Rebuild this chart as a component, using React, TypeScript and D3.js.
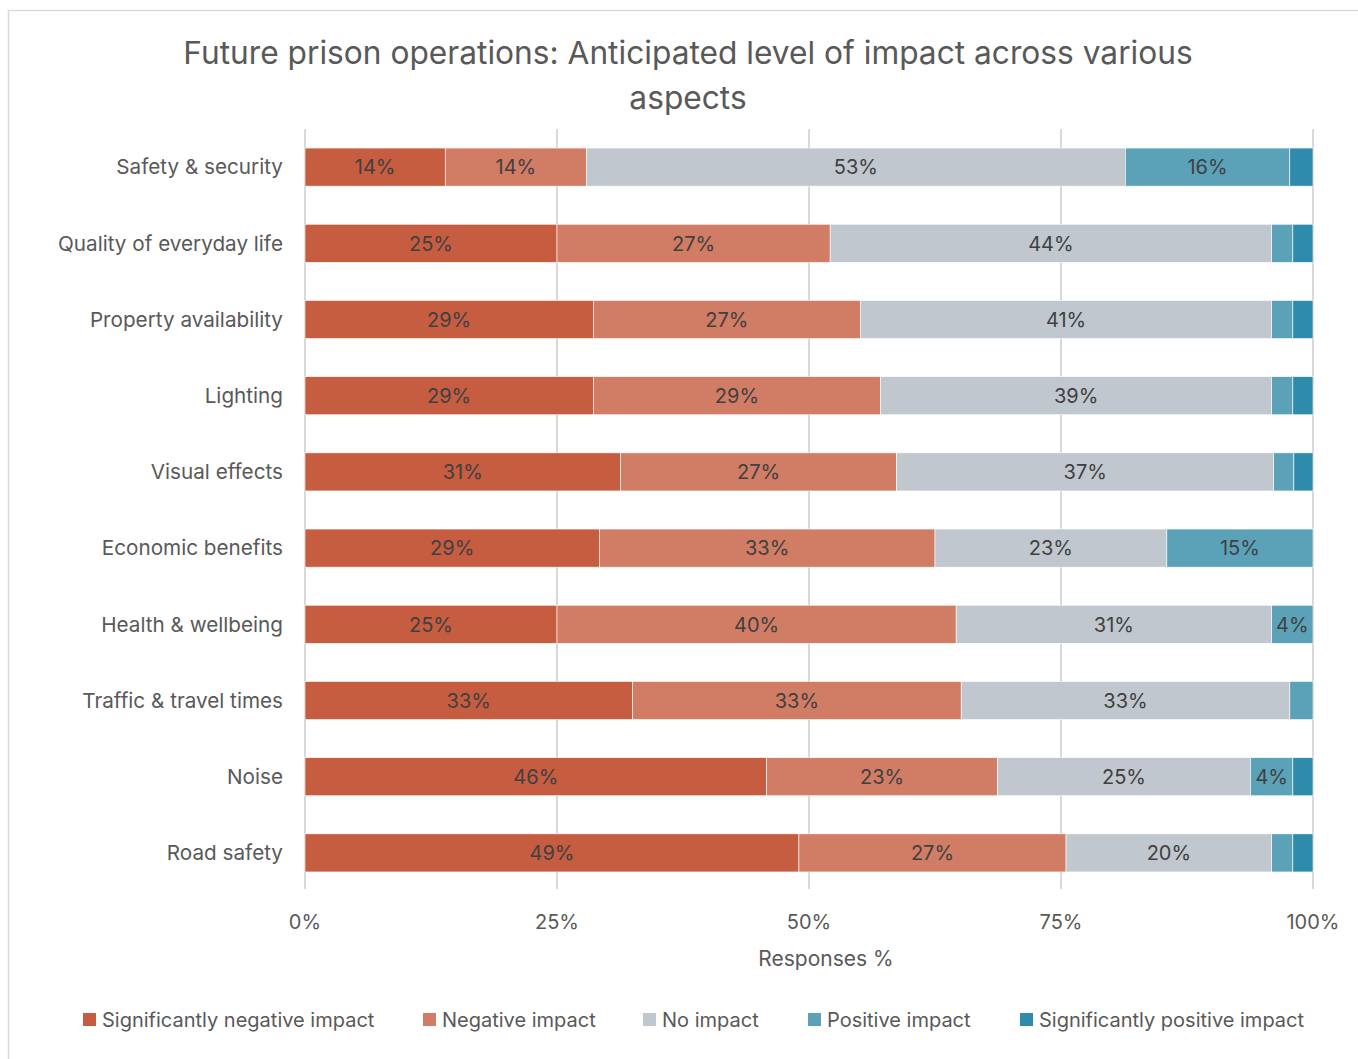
import React, { useEffect, useRef } from "react";
import * as d3 from "d3";

const categories = [
  "Safety & security",
  "Quality of everyday life",
  "Property availability",
  "Lighting",
  "Visual effects",
  "Economic benefits",
  "Health & wellbeing",
  "Traffic & travel times",
  "Noise",
  "Road safety",
];

const seriesNames = [
  "Significantly negative impact",
  "Negative impact",
  "No impact",
  "Positive impact",
  "Significantly positive impact",
];

// values per series, same order as categories (percent of responses)
const sigNegative = [13.9, 25.0, 28.6, 28.6, 31.3, 29.2, 25.0, 32.5, 45.8, 49.0];
const negative = [14.0, 27.1, 26.5, 28.5, 27.4, 33.3, 39.6, 32.6, 22.9, 26.5];
const noImpact = [53.4, 43.8, 40.8, 38.8, 37.4, 23.0, 31.3, 32.6, 25.1, 20.4];
const positive = [16.3, 2.1, 2.1, 2.1, 2.0, 14.5, 4.1, 2.3, 4.2, 2.1];
const sigPositive = [2.3, 2.0, 2.0, 2.0, 1.9, 0, 0, 0, 2.0, 2.0];

const colors = ["#C65C40", "#D17C64", "#C0C7CE", "#5BA2B9", "#2F8BAB"];
const tickValues = [0, 0.25, 0.5, 0.75, 1];

const W = 1358;
const H = 1059;
const FONT = "Inter, 'Open Sans', 'Noto Sans', sans-serif";

const App = () => {
  const ref = useRef<SVGSVGElement>(null);

  useEffect(() => {
    if (!ref.current) return;
    const svg = d3.select(ref.current);
    svg.selectAll("*").remove();

    const allSeries = [sigNegative, negative, noImpact, positive, sigPositive];
    const rows = categories.map((c, i) => {
      const r: any = { category: c };
      seriesNames.forEach((s, k) => (r[s] = allSeries[k][i]));
      return r;
    });

    const stacked = d3
      .stack<any>()
      .keys(seriesNames)
      .offset(d3.stackOffsetExpand)(rows);

    const x = d3.scaleLinear().domain([0, 1]).range([305, 1313]);
    const y = d3
      .scaleBand()
      .domain(categories)
      .range([129, 891])
      .paddingInner(0.5)
      .paddingOuter(0.25);

    // chart frame
    svg
      .append("rect")
      .attr("x", 8.5)
      .attr("y", 10.5)
      .attr("width", 1400)
      .attr("height", 1100)
      .attr("fill", "#fff")
      .attr("stroke", "#d9d9d9")
      .attr("stroke-width", 1.5);

    // title
    const title = svg
      .append("text")
      .attr("text-anchor", "middle")
      .attr("font-family", FONT)
      .attr("font-size", 31.7)
      .attr("fill", "#595959");
    title.append("tspan").attr("x", 688).attr("y", 64).text(
      "Future prison operations: Anticipated level of impact across various"
    );
    title.append("tspan").attr("x", 688).attr("y", 109).text("aspects");

    // gridlines
    svg
      .append("g")
      .selectAll("line")
      .data(tickValues)
      .join("line")
      .attr("x1", (d) => x(d))
      .attr("x2", (d) => x(d))
      .attr("y1", 129)
      .attr("y2", 889)
      .attr("stroke", "#d9d9d9")
      .attr("stroke-width", 2);

    // x tick labels
    svg
      .append("g")
      .selectAll("text")
      .data(tickValues)
      .join("text")
      .attr("x", (d) => x(d))
      .attr("y", 929)
      .attr("text-anchor", "middle")
      .attr("font-family", FONT)
      .attr("font-size", 20)
      .attr("fill", "#595959")
      .text((d) => d3.format(".0%")(d));

    svg
      .append("text")
      .attr("x", 826)
      .attr("y", 966)
      .attr("text-anchor", "middle")
      .attr("font-family", FONT)
      .attr("font-size", 21)
      .attr("fill", "#595959")
      .text("Responses %");

    // category labels
    svg
      .append("g")
      .selectAll("text")
      .data(categories)
      .join("text")
      .attr("x", 283)
      .attr("y", (d) => (y(d) as number) + y.bandwidth() / 2)
      .attr("dy", "0.35em")
      .attr("text-anchor", "end")
      .attr("font-family", FONT)
      .attr("font-size", 20.7)
      .attr("fill", "#595959")
      .text((d) => d);

    // bars
    const groups = svg
      .append("g")
      .selectAll("g")
      .data(stacked)
      .join("g")
      .attr("fill", (_, i) => colors[i]);

    groups
      .selectAll("rect")
      .data((s) => s)
      .join("rect")
      .attr("x", (d) => x(d[0]))
      .attr("y", (d) => y(d.data.category) as number)
      .attr("width", (d) => Math.max(0, x(d[1]) - x(d[0])))
      .attr("height", y.bandwidth())
      .attr("stroke", "#fff")
      .attr("stroke-width", 0.6);

    // data labels (small 2% segments are left unlabelled)
    groups.each(function (s: any, k: number) {
      d3.select(this)
        .selectAll("text")
        .data(s.filter((d: any) => d.data[seriesNames[k]] >= 3))
        .join("text")
        .attr("x", (d: any) => (x(d[0]) + x(d[1])) / 2)
        .attr("y", (d: any) => (y(d.data.category) as number) + y.bandwidth() / 2)
        .attr("dy", "0.36em")
        .attr("text-anchor", "middle")
        .attr("font-family", FONT)
        .attr("font-size", 20)
        .attr("fill", "#404040")
        .text((d: any) => Math.round(d.data[seriesNames[k]]) + "%");
    });

    // legend
    const legendX = [83, 423, 643, 808, 1020];
    const legend = svg
      .append("g")
      .selectAll("g")
      .data(seriesNames)
      .join("g")
      .attr("transform", (_, i) => `translate(${legendX[i]}, 1013)`);
    legend
      .append("rect")
      .attr("width", 13)
      .attr("height", 13)
      .attr("fill", (_, i) => colors[i]);
    legend
      .append("text")
      .attr("x", 19)
      .attr("y", 7)
      .attr("dy", "0.36em")
      .attr("font-family", FONT)
      .attr("font-size", 20)
      .attr("fill", "#595959")
      .text((d) => d);
  }, []);

  return (
    <svg
      ref={ref}
      width={W}
      height={H}
      style={{ position: "absolute", left: 0, top: 0, background: "#fff" }}
    ></svg>
  );
};

export default App;
